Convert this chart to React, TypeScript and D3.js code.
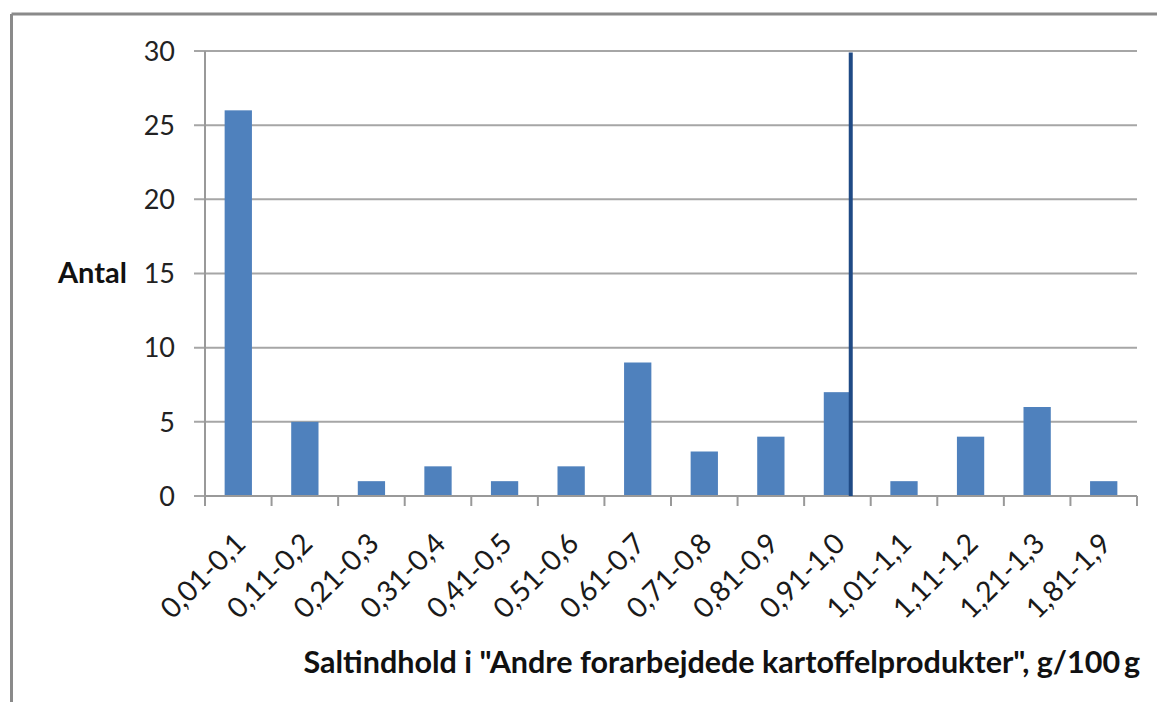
import React from "react";
import * as d3 from "d3";

const categories = [
  "0,01-0,1", "0,11-0,2", "0,21-0,3", "0,31-0,4", "0,41-0,5", "0,51-0,6", "0,61-0,7",
  "0,71-0,8", "0,81-0,9", "0,91-1,0", "1,01-1,1", "1,11-1,2", "1,21-1,3", "1,81-1,9",
];
const counts = [26, 5, 1, 2, 1, 2, 9, 3, 4, 7, 1, 4, 6, 1];
const yTicks = [0, 5, 10, 15, 20, 25, 30];
const refLinePos = 9.7; // position in category units
const refLineTop = 29.9;
const yLabel = "Antal";
const xLabel = 'Saltindhold i "Andre forarbejdede kartoffelprodukter", g/100\u2009g';

const W = 1157, H = 702;
const plot = { left: 205, right: 1137, top: 51, bottom: 496 };
const font = "Lato, 'Open Sans', sans-serif";

export default function App() {
  const x = d3.scaleBand<string>().domain(categories).range([plot.left, plot.right]).paddingInner(0.59).paddingOuter(0.295);
  const xc = d3.scaleLinear().domain([0, categories.length]).range([plot.left, plot.right]);
  const y = d3.scaleLinear().domain([0, 30]).range([plot.bottom, plot.top]);

  return (
    <svg width={W} height={H} style={{ position: "absolute", left: 0, top: 0, background: "#fff" }}>
      <rect x={0} y={0} width={W} height={H} fill="#fff" />
      {/* outer border */}
      <line x1={11.5} x2={W + 5} y1={14} y2={14} stroke="#8a8a8a" strokeWidth={3} />
      <line x1={11.5} x2={11.5} y1={14} y2={H + 5} stroke="#8a8a8a" strokeWidth={3} />

      {/* gridlines */}
      {yTicks.map((t) => (
        <line key={"g" + t} x1={plot.left - 11} x2={plot.right} y1={y(t)} y2={y(t)} stroke="#a6a6a6" strokeWidth={2} />
      ))}
      {/* y axis */}
      <line x1={plot.left} x2={plot.left} y1={y(30)} y2={y(0)} stroke="#999" strokeWidth={2} />
      {yTicks.map((t) => (
        <text key={"yt" + t} x={175} y={y(t)} dy="0.36em" textAnchor="end" fontFamily={font} fontSize={27} fill="#222">
          {t}
        </text>
      ))}
      <text x={58} y={283} fontFamily={font} fontWeight={700} fontSize={29} fill="#111">{yLabel}</text>

      {/* bars */}
      {categories.map((c, i) => (
        <rect key={c} x={x(c)} y={y(counts[i])} width={x.bandwidth()} height={y(0) - y(counts[i])} fill="#4f81bd" />
      ))}

      {/* x axis */}
      <line x1={plot.left} x2={plot.right} y1={y(0)} y2={y(0)} stroke="#999" strokeWidth={2} />
      {d3.range(categories.length + 1).map((i) => (
        <line key={"xt" + i} x1={xc(i)} x2={xc(i)} y1={y(0)} y2={y(0) + 10} stroke="#999" strokeWidth={2} />
      ))}
      {categories.map((c) => {
        const cx = (x(c) as number) + x.bandwidth() / 2 + 2;
        const cy = y(0) + 42;
        return (
          <text key={"xl" + c} x={cx} y={cy} transform={`rotate(-45 ${cx} ${cy})`} textAnchor="end" dy="0.36em"
            fontFamily={font} fontSize={28.5} fill="#1a1a1a">
            {c}
          </text>
        );
      })}

      {/* reference line */}
      <line x1={xc(refLinePos)} x2={xc(refLinePos)} y1={y(refLineTop)} y2={y(0)} stroke="#1f4a85" strokeWidth={4} />

      <text x={1140} y={673} textAnchor="end" fontFamily={font} fontWeight={700} fontSize={30.5} fill="#111">{xLabel}</text>
    </svg>
  );
}
